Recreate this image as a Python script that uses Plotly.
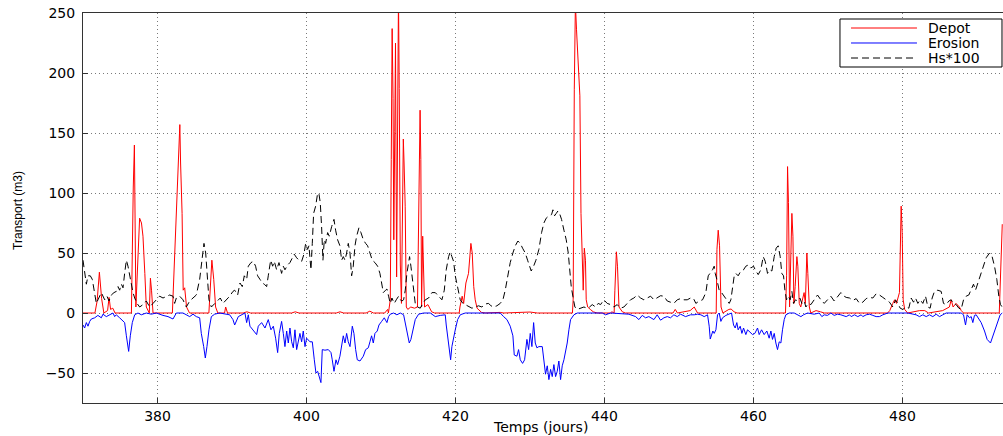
import plotly.graph_objects as go

# ---------------- data ----------------
depot_x = [370.0, 371.6, 371.9, 372.2, 372.5, 372.8, 373.3, 373.5, 373.7, 374.0, 374.3,
           376.5, 376.75, 376.9, 377.1, 377.35, 377.6, 377.85, 378.05, 378.3, 378.5, 378.9,
           379.05, 379.2, 379.4, 382.0, 382.4, 382.75, 383.0, 383.1, 383.3, 383.45, 383.65,
           383.9, 384.3, 386.9, 387.1, 387.3, 387.55, 387.8, 388.1, 389.0, 389.15, 389.4,
           391.5, 392.0, 392.5, 398.0, 398.5, 399.0, 404.0, 404.5, 405.0, 408.0, 408.5, 409.0,
           410.5, 410.9, 411.0, 411.25, 411.38, 411.5, 411.62, 411.72, 411.85, 411.95, 412.1,
           412.25, 412.35, 412.45, 412.6, 412.75, 412.87, 413.0, 413.1, 413.25, 413.4, 413.6,
           414.0, 414.5, 414.9, 415.0, 415.15, 415.25, 415.35, 415.45, 415.6, 415.7, 415.85,
           416.3, 416.8, 417.2, 420.5, 420.6, 420.9, 421.1, 421.4, 421.75, 422.07, 422.25,
           422.45, 422.65, 422.9, 423.5, 424.0, 426.0, 426.5, 430.0, 431.0, 435.7, 435.8,
           435.95, 436.1, 436.25, 436.4, 436.57, 436.7, 436.85, 437.0, 437.15, 437.3, 437.45,
           437.55, 437.75, 438.1, 438.5, 439.0, 440.8, 441.0, 441.3, 441.4, 441.6, 441.75,
           441.95, 442.4, 442.8, 449.2, 449.5, 449.8, 451.5, 452.05, 452.3, 452.5, 455.0,
           455.1, 455.27, 455.45, 455.65, 455.9, 456.7, 457.0, 457.4, 457.8, 464.3, 464.45,
           464.58, 464.7, 464.85, 464.98, 465.16, 465.3, 465.43, 465.6, 465.83, 465.96, 466.15,
           466.35, 466.6, 466.8, 466.97, 467.17, 467.3, 467.5, 467.7, 468.4, 469.0, 469.5,
           478.0, 478.3, 478.7, 478.95, 479.2, 479.6, 479.83, 479.97, 480.1, 480.3, 480.7,
           482.3, 483.0, 483.5, 485.4, 486.3, 486.55, 486.8, 487.2, 487.65, 487.9, 488.2,
           493.0, 493.25, 493.4]
depot_y = [0, 0, 10, 34, 12, 0, 2, 13, 3, 4, 0,
           0, 105, 140, 5, 40, 79, 75, 64, 33, 5, 0,
           29, 19, 0, 0, 61, 125, 157, 125, 83, 19, 21,
           5, 0, 0, 20, 44, 28, 5, 0, 0, 5, 0,
           0, 1, 0, 0, 1, 0, 0, 1, 0, 0, 1.5, 0,
           0, 3, 0, 11, 128, 237, 179, 61, 151, 225, 30,
           262, 265, 187, 40, 8, 83, 145, 125, 89, 5, 3,
           5, 4, 5, 58, 114, 169, 128, 5, 64, 47, 5,
           7, 1, 0, 0, 5, 14, 8, 25, 33, 58, 50,
           22, 11, 4, 0.5, 0, 0.5, 0, 0.8, 0, 0, 11,
           186, 258, 236, 214, 194, 181, 83, 36, 19, 54, 44,
           11, 5, 3, 1, 0, 0, 1, 0, 19, 51, 39,
           5, 1, 0, 0, 3, 0, 2, 5, 2, 0, 0,
           53, 69, 56, 5, 0, 3, 3.3, 1, 0, 0, 31,
           122, 92, 5, 31, 83, 64, 8, 22, 47, 39, 8,
           5, 11, 17, 8, 50, 33, 5, 0, 2, 1, 0,
           0, 2, 8, 11, 8, 17, 89, 67, 11, 3, 0,
           2, 2, 0, 2, 5, 11, 5, 8, 5, 2, 0,
           0, 56, 74]

erosion_x = [370.0, 370.22, 370.45, 370.67, 370.9, 371.12, 371.57, 372.0, 372.46, 372.68,
             373.13, 373.58, 374.03, 374.25, 374.47, 374.92, 375.37, 375.59, 375.82, 376.13,
             376.35, 376.62, 376.94, 377.38, 377.83, 378.5, 379.17, 379.84, 380.74, 381.41,
             382.08, 382.53, 383.42, 383.87, 384.32, 384.77, 385.21, 385.66, 385.88, 386.2,
             386.42, 386.64, 386.91, 387.23, 387.67, 388.34, 389.02, 389.69, 390.13, 390.36,
             390.85, 391.29, 391.74, 391.97, 392.19, 392.41, 392.86, 393.31, 393.53, 393.98,
             394.43, 394.87, 395.23, 395.55, 395.86, 396.13, 396.35, 396.66, 396.89, 397.11,
             397.34, 397.56, 397.78, 398.01, 398.23, 398.45, 398.68, 398.9, 399.12, 399.35,
             399.57, 399.8, 400.02, 400.47, 400.78, 401.05, 401.27, 401.5, 401.72, 401.94,
             402.12, 402.48, 402.93, 403.29, 403.46, 403.69, 403.96, 404.18, 404.49, 404.72,
             404.94, 405.17, 405.39, 405.61, 405.84, 406.15, 406.37, 406.6, 406.82, 407.18,
             407.63, 407.94, 408.3, 408.52, 408.74, 408.97, 409.19, 409.5, 409.73, 410.09,
             410.44, 410.8, 411.02, 411.25, 411.7, 412.14, 412.59, 413.04, 413.26, 413.48,
             413.8, 414.02, 414.29, 414.6, 415.05, 415.72, 416.62, 417.29, 417.96, 418.63,
             418.76, 418.99, 419.21, 419.35, 419.52, 419.75, 419.97, 420.29, 420.64, 421.31,
             426.01, 426.46, 426.91, 427.35, 427.71, 427.89, 428.25, 428.47, 428.7, 429.01,
             429.28, 429.59, 429.82, 430.04, 430.26, 430.49, 430.71, 430.93, 431.2, 431.65,
             431.87, 432.09, 432.32, 432.54, 432.77, 432.99, 433.21, 433.44, 433.66, 433.88,
             434.11, 434.33, 434.56, 434.78, 435.0, 435.23, 435.45, 435.9, 436.35, 439.7,
             440.15, 440.82, 443.28, 444.18, 444.62, 445.07, 445.52, 445.96, 446.64, 447.08,
             447.53, 447.98, 448.43, 448.87, 449.32, 449.77, 450.22, 450.89, 451.56, 452.05,
             452.49, 452.94, 453.39, 453.84, 454.06, 454.2, 454.37, 454.55, 454.73, 454.96,
             455.18, 455.4, 455.63, 455.85, 456.3, 456.75, 457.06, 457.33, 457.55, 457.77,
             457.95, 458.22, 458.45, 458.67, 458.98, 459.21, 459.56, 459.88, 460.19, 460.55,
             460.77, 461.09, 461.44, 461.8, 462.11, 462.34, 462.56, 462.79, 463.01, 463.23,
             463.46, 463.68, 463.9, 464.13, 464.35, 464.8, 465.47, 465.92, 466.37, 466.72,
             467.26, 468.15, 468.83, 469.18, 469.5, 469.94, 470.39, 470.84, 471.29, 471.73,
             472.45, 472.89, 473.12, 473.57, 474.01, 474.46, 474.68, 475.13, 475.58, 476.03,
             476.47, 476.92, 477.37, 478.04, 480.72, 481.84, 482.29, 482.74, 483.19, 483.63,
             484.08, 484.53, 484.98, 485.42, 485.87, 487.88, 488.2, 488.47, 488.69, 489.0,
             489.23, 489.45, 489.67, 489.9, 490.12, 490.57, 491.02, 491.37, 491.82, 492.13,
             492.49, 492.81, 493.12, 493.4]
erosion_y = [-10, -12.5, -8, -11, -7, -5, -4, -2, -4, -1,
             -3, -1.5, 0, -3, -1.5, -4, -7, -8, -19, -32,
             -19, -8, -1.5, 0, -1.5, 0, -1, 0, -2, -3,
             -5, 0, 0, -1.5, -3, -1, -3, -4, -17, -28,
             -37.5, -28, -14, -3, -1, 0, -1, -1.5, -5.5, -10,
             -3, -1.5, 0, -8, -1.5, -11, -15, -18, -11, -8,
             -12.5, -5.5, -14, -11, -21, -33, -17, -7, -17, -28,
             -15, -25, -12.5, -24, -29, -14, -30.5, -24, -17, -24,
             -15, -28, -21, -24, -24, -39, -50, -48.6, -54, -58,
             -30.5, -31, -30.5, -33, -39, -48.6, -39, -43, -36, -28,
             -19, -25, -17, -24, -28, -11, -17, -30.5, -39, -40,
             -36, -30.5, -29, -24, -19, -25, -17, -15, -10, -7,
             -4, -8, -3, -1, 0, -1.5, 0, -1.5, -8, -17,
             -25, -22, -15, -5.5, -1, 0, 0, -3, -2, -1.5,
             -10, -21, -28, -39, -28, -19, -14, -5.5, -1.5, 0,
             0, -3, -5.5, -11, -19, -35, -36, -30.5, -39, -42,
             -39, -22, -30.5, -17, -28, -8, -25, -29, -28, -28,
             -42, -51, -44, -55.5, -47, -53, -43, -53, -48.6, -40,
             -55.5, -44, -39, -33, -25, -14, -5.5, -1.5, 0, 0,
             -1.5, 0, -1, -3, -5.5, -2, -4, -3, -5.5, -1.5,
             -6, -4, -3, -4, -1.5, -3, -1, -3, -1.5, -1.5,
             -1, -1.5, -3, -1.5, -11, -21.7, -18, -15, -17, -14,
             -1.5, 0, -7, -4, -2, -1, 0, -10, -12.5, -8,
             -14, -11, -17, -12.5, -18, -14, -16, -18, -17, -12.5,
             -18, -14, -18, -15, -21, -15, -22, -17, -25, -30.5,
             -24, -25, -14, -5.5, -1.5, 0, 0, -1.5, -3, -1.5,
             0, -1, 0, -3, -1.5, -2, 0, -2, -1, -1.5,
             -3, -1.5, -3, -1.5, -3, -1.5, -3, -1.5, -1, -2,
             -3, -3, -1.5, 0, 0, -1.5, -3, -1.5, -3, -1.5,
             -3, -1, -3, -1.5, 0, 0, -1.5, -10, -1.5, -4,
             -3, -8, -2, -1.5, -4, -8, -15, -22, -25, -19,
             -12.5, -5.5, -1.5, 0]

hs_x = [370.0, 370.22, 370.45, 370.67, 370.98, 371.25, 371.57, 371.79, 372.01, 372.46,
        372.91, 373.22, 373.49, 373.8, 374.16, 374.47, 374.7, 374.92, 375.15, 375.37,
        375.59, 375.82, 376.04, 376.26, 376.49, 376.71, 376.94, 377.25, 377.61, 378.05,
        378.5, 378.95, 379.4, 379.84, 380.29, 380.74, 381.19, 381.63, 382.08, 382.3,
        382.53, 382.98, 383.42, 383.87, 384.32, 384.77, 385.21, 385.66, 386.02, 386.24,
        386.47, 386.69, 386.91, 387.23, 387.67, 388.12, 388.43, 388.79, 389.24, 389.69,
        390.13, 390.36, 390.76, 391.07, 391.38, 391.65, 391.97, 392.19, 392.55, 392.86,
        393.17, 393.44, 393.76, 394.07, 394.34, 394.65, 394.87, 395.19, 395.46, 395.68,
        395.99, 396.31, 396.66, 396.89, 397.11, 397.47, 397.78, 398.1, 398.36, 398.68,
        398.99, 399.35, 399.66, 399.89, 400.15, 400.33, 400.47, 400.6, 400.78, 400.96,
        401.23, 401.5, 401.68, 401.85, 402.03, 402.21, 402.39, 402.57, 402.84, 403.06,
        403.38, 403.69, 403.91, 404.18, 404.49, 404.72, 404.94, 405.17, 405.39, 405.61,
        405.84, 406.06, 406.28, 406.51, 406.73, 407.04, 407.31, 407.63, 407.94, 408.21,
        408.52, 408.83, 409.19, 409.55, 409.86, 410.09, 410.31, 410.62, 410.8, 411.02,
        411.25, 411.47, 411.78, 412.05, 412.37, 412.59, 412.81, 413.04, 413.26, 413.48,
        413.71, 413.84, 414.02, 414.2, 414.38, 414.6, 414.92, 415.27, 415.63, 415.95,
        416.39, 416.84, 417.29, 417.6, 417.87, 418.18, 418.5, 418.76, 419.08, 419.3,
        419.52, 419.75, 419.97, 420.2, 420.42, 420.64, 421.0, 421.31, 421.76, 422.21,
        422.66, 423.1, 423.55, 424.0, 424.45, 424.76, 425.12, 425.56, 426.01, 426.37,
        426.68, 427.0, 427.35, 427.71, 428.03, 428.38, 428.7, 429.01, 429.37, 429.68,
        429.95, 430.17, 430.49, 430.8, 431.2, 431.56, 431.87, 432.18, 432.54, 432.9,
        433.08, 433.3, 433.53, 433.75, 433.97, 434.24, 434.56, 434.87, 435.14, 435.36,
        435.54, 435.76, 436.03, 436.35, 436.79, 437.24, 437.69, 438.0, 438.36, 438.81,
        439.16, 439.48, 439.92, 440.37, 440.82, 441.27, 441.71, 442.16, 442.61, 443.06,
        443.5, 443.95, 444.4, 444.85, 445.29, 445.74, 446.19, 446.64, 447.08, 447.53,
        447.98, 448.43, 448.87, 449.32, 449.77, 450.22, 450.66, 451.11, 451.56, 451.96,
        452.27, 452.72, 453.17, 453.61, 453.93, 454.2, 454.51, 454.73, 454.87, 455.09,
        455.4, 455.72, 456.07, 456.43, 456.75, 456.97, 457.19, 457.42, 457.64, 457.95,
        458.31, 458.67, 458.98, 459.3, 459.65, 460.01, 460.32, 460.64, 460.99, 461.31,
        461.58, 461.89, 462.2, 462.47, 462.79, 463.05, 463.32, 463.59, 463.81, 464.04,
        464.22, 464.44, 464.67, 464.93, 465.16, 465.38, 465.65, 465.92, 466.23, 466.5,
        466.81, 467.04, 467.35, 467.71, 468.15, 468.6, 469.05, 469.5, 469.94, 470.39,
        470.84, 471.29, 471.73, 472.18, 472.45, 472.89, 473.34, 473.79, 474.24, 474.68,
        475.13, 475.58, 476.03, 476.47, 476.92, 477.37, 477.82, 478.26, 478.71, 479.07,
        479.38, 479.7, 480.05, 480.5, 480.86, 481.17, 481.49, 481.75, 482.07, 482.38,
        482.74, 483.1, 483.41, 483.72, 483.99, 484.3, 484.75, 485.2, 485.51, 485.87,
        486.23, 486.54, 486.85, 487.21, 487.57, 487.88, 488.2, 488.55, 488.91, 489.23,
        489.54, 489.81, 490.12, 490.43, 490.79, 491.24, 491.69, 492.04, 492.36, 492.67,
        492.94, 493.16, 493.39]
hs_y = [44, 35, 24, 31, 31, 28, 17, 8, 11, 17,
        11, 14, 10, 15, 17, 18, 22, 19, 24, 21,
        33, 44, 39, 31, 22, 17, 12.5, 8, 5, 7,
        10, 5, 8, 11, 14, 12.5, 14, 15, 14, 8,
        12.5, 14, 11, 5, 10, 12.5, 15, 28, 44, 58,
        50, 28, 11, 5, 8, 11, 12.5, 8, 11, 14,
        18, 19, 15, 25, 22, 31, 28, 39, 42, 43,
        39, 31, 28, 25, 24, 22, 31, 44, 39, 43,
        36, 42, 33, 39, 36, 40, 42, 46, 49, 46,
        44, 43, 49, 58, 53, 56, 44, 36, 58, 83,
        89, 100, 99, 92, 72, 44, 61, 58, 67, 64,
        72, 78, 69, 61, 56, 44, 47, 44, 50, 58,
        50, 31, 39, 56, 64, 71, 67, 61, 58, 56,
        50, 44, 42, 39, 33, 25, 17, 19, 20, 14,
        8, 12.5, 8, 11, 14, 11, 10, 11, 19, 33,
        44, 47, 39, 28, 17, 8, 5, 4, 8, 11,
        12.5, 17, 17, 15, 12.5, 11, 19, 36, 47, 51,
        47, 43, 31, 24, 17, 11, 8, 7, 5, 4,
        5, 6, 5, 7.5, 8, 6, 5, 6, 8, 11,
        19, 31, 42, 50, 56, 60, 58, 54, 50, 44,
        39, 35, 39, 44, 53, 67, 75, 79, 81, 82,
        86, 81, 83, 85, 83, 78, 69, 61, 50, 33,
        22, 14, 5, 3, 4, 5, 4, 5, 7, 5,
        8, 7, 11, 8, 7, 5, 7, 4, 5, 8,
        11, 12.5, 15, 12.5, 11, 12.5, 14, 11, 12.5, 14.4,
        14, 10, 9, 8, 11, 12, 11, 11, 12.5, 12,
        8, 10, 11, 17, 31, 33, 36, 39, 33, 28,
        19, 17, 14, 11, 8, 11, 22, 31, 33, 31,
        35, 36, 39, 40, 37.5, 39, 35, 32, 36, 47,
        43, 33, 36, 35, 47, 54, 56, 47, 33, 31,
        19, 11, 14, 11, 18, 8, 11, 10, 12.5, 8,
        10, 5, 8, 7, 11, 15, 11, 8, 11, 14,
        10, 14, 17, 14, 13, 12.5, 10.5, 12, 8, 9,
        12, 13, 12.5, 16, 15, 13, 11, 9, 5, 11,
        8, 4, 3, 5, 4, 12.5, 9, 12.5, 8, 11,
        8, 14, 5, 4, 12.5, 18, 19, 18, 8, 7,
        10, 11, 8, 7, 4, 3, 11, 14, 15, 19,
        24, 19, 25, 31, 39, 46, 50, 47, 39, 28,
        14, 7, 5]

x_ticks = [380, 400, 420, 440, 460, 480]
y_ticks = [-50, 0, 50, 100, 150, 200, 250]
series_names = ["Depot", "Erosion", "Hs*100"]
series_colors = ["#ff0000", "#0000ff", "#000000"]
series_dash = ["solid", "solid", "7px,4px"]

# ---------------- figure ----------------
fig = go.Figure()
for name, xs, ys, col, dsh in zip(series_names, [depot_x, erosion_x, hs_x],
                                  [depot_y, erosion_y, hs_y], series_colors, series_dash):
    fig.add_trace(go.Scatter(x=xs, y=ys, mode="lines", name=name, showlegend=False,
                             line=dict(color=col, width=1, dash=dsh)))

axis_common = dict(
    showline=True, linecolor="#333333", linewidth=1, mirror=True,
    ticks="inside", ticklen=5, tickcolor="#333333",
    showgrid=True, gridcolor="#7a7a7a", griddash="1px,3px", gridwidth=1,
    zeroline=False,
    tickfont=dict(family="DejaVu Sans", size=14, color="#000000"),
)

# MATLAB-style legend box (drawn in paper coordinates)
shapes = [dict(type="rect", xref="paper", yref="paper", x0=0.8228, x1=0.9989,
               y0=0.8615, y1=0.9846, line=dict(color="#000000", width=1),
               fillcolor="white", layer="above")]
annotations = []
row_y = [0.9615, 0.9231, 0.8846]
for name, col, dsh, ry in zip(series_names, series_colors, series_dash, row_y):
    shapes.append(dict(type="line", xref="paper", yref="paper", x0=0.8348, x1=0.9065,
                       y0=ry, y1=ry, line=dict(color=col, width=1, dash=dsh),
                       layer="above"))
    annotations.append(dict(text=name, xref="paper", yref="paper", x=0.9163, y=ry,
                            xanchor="left", yanchor="middle", showarrow=False,
                            font=dict(family="DejaVu Sans", size=14, color="#000000")))

annotations += [
    dict(text="Temps (jours)", xref="paper", yref="paper", x=0.497, y=0,
         xanchor="center", yanchor="top", yshift=-14, showarrow=False,
         font=dict(family="DejaVu Sans", size=14, color="#000000")),
    dict(text="Transport (m3)", xref="paper", yref="paper", x=-0.0707, y=0.495,
         xanchor="center", yanchor="middle", textangle=-90, showarrow=False,
         font=dict(family="Liberation Sans", size=12, color="#000000")),
]

fig.update_layout(
    width=1003, height=436,
    margin=dict(l=83, r=0, t=13, b=33),
    paper_bgcolor="white", plot_bgcolor="white",
    showlegend=False,
    xaxis=dict(range=[370, 493.5], tickvals=x_ticks, **axis_common),
    yaxis=dict(range=[-75, 250], tickvals=y_ticks, ticklabelstandoff=4, **axis_common),
    shapes=shapes,
    annotations=annotations,
)

fig.write_html("out.html", config={"displayModeBar": False},
               post_script="document.body.style.margin='0px';document.body.style.overflow='hidden';")
